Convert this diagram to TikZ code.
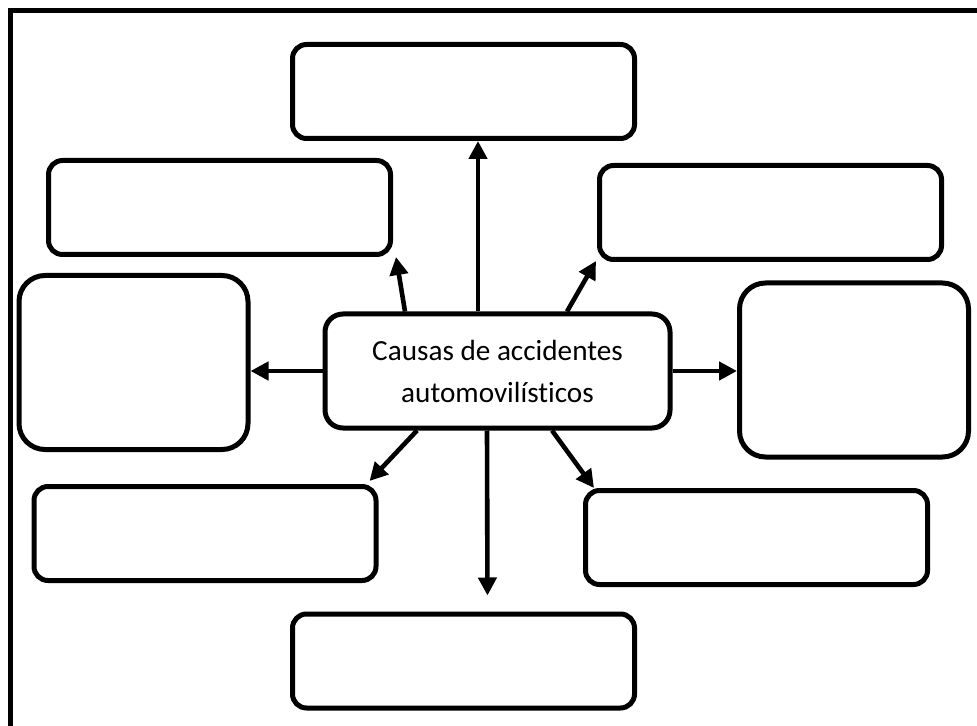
\documentclass[tikz,border=0pt]{standalone}
\usepackage{fontspec}
\setmainfont{Carlito}[Ligatures={NoCommon}]
\usetikzlibrary{
  arrows.meta,
  calc
}
\tikzset{
  box/.style={draw, line width=2.5pt, inner sep=0pt},
  widebox/.style={box, minimum width=171pt, minimum height=47pt, rounded corners=7pt},
  tallbox/.style={box, minimum width=114.5pt, minimum height=87pt, rounded corners=13pt},
  mainbox/.style={box, minimum width=172.5pt, minimum height=57pt, rounded corners=9pt,
    align=center, font=\fontsize{14.6}{21}\selectfont},
  arr/.style={-{Triangle[length=9pt, width=9pt]}, line width=2.3pt},
  frame/.style={line width=2.5pt},
}

\begin{document}
\begin{tikzpicture}[x=0.5pt, y=-0.5pt]
\useasboundingbox (0,0) rectangle (977,726);

% --- page frame (top and left only) ---
\draw[frame] (10,726) -- (10,10.5) -- (977,10.5);

% --- central node ---
\node[mainbox] (ctr) at (497.5,371) {Causas de accidentes\\automovilísticos};

% --- surrounding empty boxes ---
\node[widebox] (tp) at (463.5,91.5) {};
\node[widebox] (tl) at (219.5,207.5) {};
\node[widebox] (tr) at (770.5,212.5) {};
\node[tallbox] (lf) at (133.5,362.5) {};
\node[tallbox] (rt) at (854,370) {};
\node[widebox] (bl) at (205,533.5) {};
\node[widebox] (br) at (756.5,537.5) {};
\node[widebox] (bt) at (463.5,661) {};

% --- arrows out of the centre ---
\draw[arr] ($(ctr.north)+(-19.5,0)$) -- ($(tp.south)+(14.5,0)$);
\draw[arr] ($(ctr.north)+(-92.5,0)$) -- ($(tl.south)+(176.5,0)$);
\draw[arr] ($(ctr.north)+(69.5,0)$) -- ($(tr.south west)+(-1,-1)$);
\draw[arr] (ctr.east) -- (ctr.east -| rt.west);
\draw[arr] (ctr.west) -- (ctr.west -| lf.east);
\draw[arr] ($(ctr.south)+(-80.5,0)$) -- ($(bl.north east)+(-9,-3)$);
\draw[arr, shorten >=8pt] ($(ctr.south)+(-10.5,0)$) -- ($(bt.north)+(24,0)$);
\draw[arr] ($(ctr.south)+(54.5,0)$) -- ($(br.north west)+(11,0)$);

\end{tikzpicture}
\end{document}
